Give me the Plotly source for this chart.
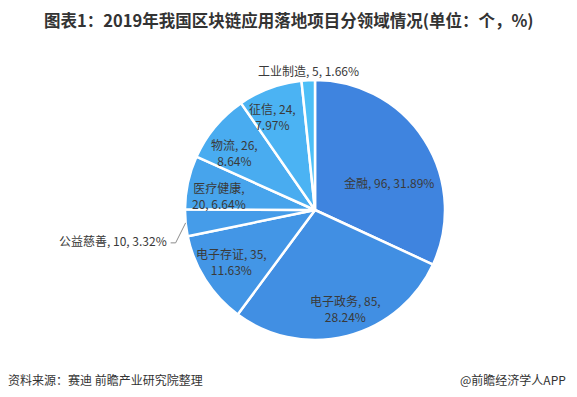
import math
import plotly.graph_objects as go

categories = ["金融", "电子政务", "电子存证", "公益慈善", "医疗健康", "物流", "征信", "工业制造"]
values = [96, 85, 35, 10, 20, 26, 24, 5]
percents = ["31.89%", "28.24%", "11.63%", "3.32%", "6.64%", "8.64%", "7.97%", "1.66%"]
colors = ["#3F84DF", "#418FE3", "#4396E6", "#459CE9", "#47A4EC", "#49ACF0", "#4BB3F3", "#4DBFF7"]

# label layout (style, not data): two-line split, radial fraction, angle offset (deg)
label_breaks = [False, True, True, False, True, True, True, False]
label_break_after_name = [False, False, False, False, True, False, False, False]
label_rfrac = [0.61, 0.79, 0.75, None, 0.75, 0.76, 0.79, None]
label_dang = [12, -3, 1, 0, -4, -4, -4, 0]

W, H = 577, 397
cx, cy, r = 315, 210, 130
FONT = "Noto Sans CJK SC"
TXT = "#3a3a3a"

fig = go.Figure(go.Pie(
    labels=categories,
    values=values,
    textinfo="none",
    sort=False,
    direction="clockwise",
    rotation=0,
    marker=dict(colors=colors, line=dict(color="white", width=2.5)),
    domain=dict(x=[(cx - r) / W, (cx + r) / W], y=[(H - cy - r) / H, (H - cy + r) / H]),
    showlegend=False,
    hoverinfo="skip",
))

total = sum(values)
cum = 0
for i, (cat, v, p) in enumerate(zip(categories, values, percents)):
    mid = (cum + v / 2) / total * 360
    cum += v
    if label_break_after_name[i]:
        txt = f"{cat},<br>{v}, {p}"
    elif label_breaks[i]:
        txt = f"{cat}, {v},<br>{p}"
    else:
        txt = f"{cat}, {v}, {p}"
    a = math.radians(mid + label_dang[i])
    if label_rfrac[i] is not None:
        px = cx + label_rfrac[i] * r * math.sin(a)
        py = cy - label_rfrac[i] * r * math.cos(a)
        fig.add_annotation(text=txt, x=px / W, y=1 - py / H, xref="paper", yref="paper",
                           showarrow=False, align="center",
                           font=dict(family=FONT, size=12, color=TXT),
                           xanchor="center", yanchor="middle")
    else:
        ex = cx + r * math.sin(a)
        ey = cy - r * math.cos(a)
        if mid > 300:
            fig.add_annotation(text=txt, x=ex / W, y=1 - (ey - 10) / H, xref="paper", yref="paper",
                               showarrow=False, font=dict(family=FONT, size=12, color=TXT),
                               xanchor="center", yanchor="middle")
        else:
            bx, by = ex - 10, ey + 20
            hx = bx - 5
            fig.add_shape(type="path",
                          path=f"M {ex/W} {1-ey/H} L {bx/W} {1-by/H} L {hx/W} {1-by/H}",
                          xref="paper", yref="paper",
                          line=dict(color="#8c8c8c", width=1))
            fig.add_annotation(text=txt, x=(hx - 2) / W, y=1 - (by - 2) / H, xref="paper", yref="paper",
                               showarrow=False, font=dict(family=FONT, size=12, color=TXT),
                               xanchor="right", yanchor="middle")

fig.update_layout(
    width=W, height=H,
    margin=dict(l=0, r=0, t=0, b=0),
    paper_bgcolor="white",
    plot_bgcolor="white",
)

fig.add_annotation(text="<b>图表1：2019年我国区块链应用落地项目分领域情况(单位：个，%)</b>",
                   x=289 / W, y=1 - 20 / H, xref="paper", yref="paper", showarrow=False,
                   font=dict(family=FONT, size=16.5, color="#333333"),
                   xanchor="center", yanchor="middle")
fig.add_annotation(text="资料来源：赛迪 前瞻产业研究院整理",
                   x=6 / W, y=1 - 379 / H, xref="paper", yref="paper", showarrow=False,
                   font=dict(family=FONT, size=12, color="#333333"),
                   xanchor="left", yanchor="middle")
fig.add_annotation(text="@前瞻经济学人APP",
                   x=458 / W, y=1 - 379 / H, xref="paper", yref="paper", showarrow=False,
                   font=dict(family=FONT, size=12, color="#333333"),
                   xanchor="left", yanchor="middle")

fig.write_html("out.html", config={"displayModeBar": False},
               post_script="document.body.style.margin='0';document.body.style.overflow='hidden';")
